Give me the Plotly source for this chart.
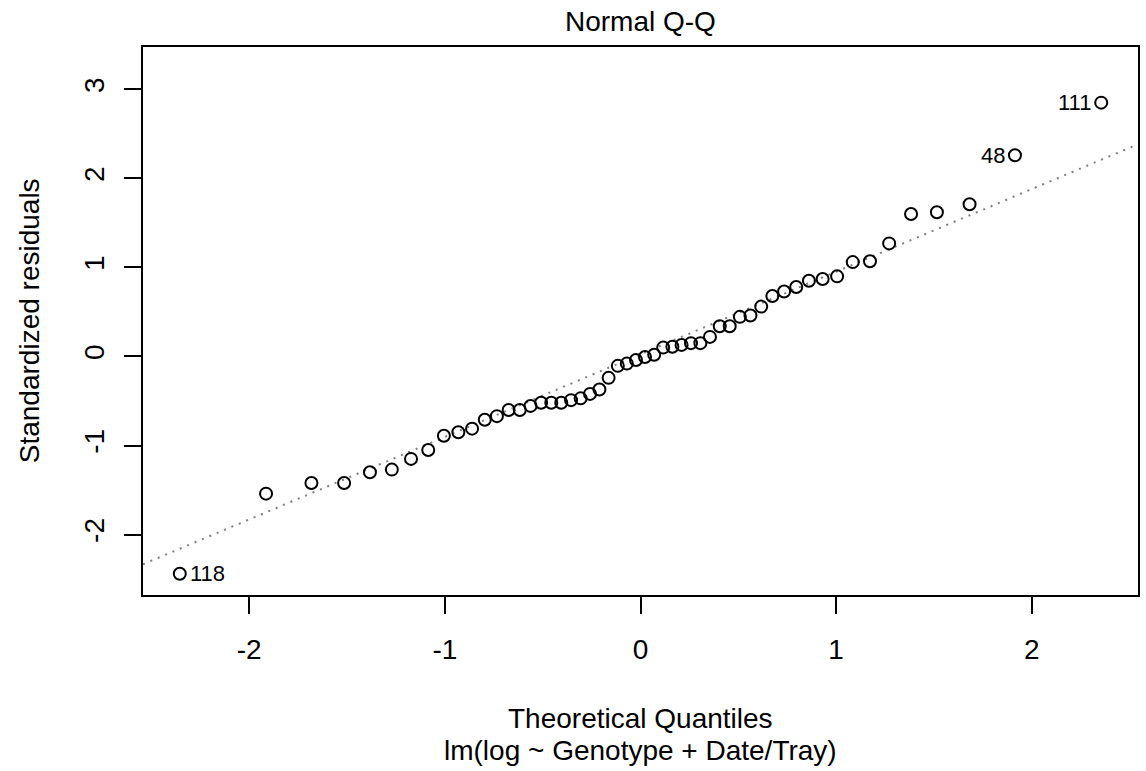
import numpy as np
import plotly.graph_objects as go

# Theoretical normal quantiles and the sorted standardized residuals
theoretical = [
    -2.355, -1.914, -1.682, -1.515, -1.383, -1.271, -1.173, -1.085, -1.005,
    -0.931, -0.861, -0.796, -0.734, -0.674, -0.617, -0.562, -0.508, -0.456,
    -0.405, -0.355, -0.306, -0.258, -0.210, -0.163, -0.116, -0.070, -0.023,
    0.023, 0.070, 0.116, 0.163, 0.210, 0.258, 0.306, 0.355, 0.405,
    0.456, 0.508, 0.562, 0.617, 0.674, 0.734, 0.796, 0.861, 0.931,
    1.005, 1.085, 1.173, 1.271, 1.383, 1.515, 1.682, 1.914, 2.355,
]
std_resid = [
    -2.44, -1.54, -1.42, -1.42, -1.30, -1.27, -1.15, -1.05, -0.89,
    -0.85, -0.81, -0.71, -0.67, -0.60, -0.60, -0.555, -0.52, -0.52,
    -0.52, -0.49, -0.47, -0.42, -0.37, -0.24, -0.105, -0.08, -0.04,
    -0.005, 0.02, 0.10, 0.11, 0.13, 0.15, 0.15, 0.22, 0.34,
    0.34, 0.445, 0.46, 0.56, 0.68, 0.73, 0.78, 0.85, 0.87,
    0.90, 1.06, 1.07, 1.27, 1.60, 1.62, 1.71, 2.26, 2.85,
]
# Flagged observations: (label, index into the sorted arrays)
flagged = [("118", 0), ("48", 52), ("111", 53)]

x_ticks = [-2, -1, 0, 1, 2]
y_ticks = [-2, -1, 0, 1, 2, 3]
x_range = [-2.543, 2.543]
y_range = [-2.678, 3.475]

FONT = "Liberation Sans, Arial, sans-serif"
BIG = 28
SMALL = 22

# Reference line through the first and third quartiles
xq = np.array([-0.674, 0.674])
yq = np.quantile(np.array(std_resid), [0.25, 0.75])
slope = (yq[1] - yq[0]) / (xq[1] - xq[0])
intercept = yq[0] - slope * xq[0]
line_x = np.array(x_range)
line_y = intercept + slope * line_x

fig = go.Figure()
fig.add_trace(go.Scatter(
    x=line_x, y=line_y, mode="lines",
    line=dict(color="#7f7f7f", width=2, dash="2px,6px"),
    hoverinfo="skip", showlegend=False,
))
fig.add_trace(go.Scatter(
    x=theoretical, y=std_resid, mode="markers",
    marker=dict(symbol="circle-open", size=12, color="black",
                line=dict(width=2, color="black")),
    showlegend=False,
))

for label, i in flagged:
    left_side = theoretical[i] < 0
    fig.add_annotation(
        x=theoretical[i], y=std_resid[i], text=label, showarrow=False,
        xanchor="left" if left_side else "right", yanchor="middle",
        xshift=8 if left_side else -8,
        font=dict(family=FONT, size=SMALL, color="black"),
    )

axis_common = dict(
    showgrid=False, zeroline=False, showline=True, mirror=True,
    linecolor="black", linewidth=2, ticks="outside", ticklen=17,
    tickwidth=2, tickcolor="black",
    tickfont=dict(family=FONT, size=BIG, color="black"),
)
fig.update_xaxes(range=x_range, tickvals=x_ticks,
                 ticktext=[str(v) for v in x_ticks],
                 ticklabelstandoff=11, **axis_common)
fig.update_yaxes(range=y_range, tickvals=y_ticks,
                 ticktext=[str(v) for v in y_ticks], tickangle=-90,
                 ticklabelstandoff=9, **axis_common)

PLOT_TOP, PLOT_BOTTOM = 47, 595
plot_h = PLOT_BOTTOM - PLOT_TOP


def paper_y(px):
    return (PLOT_BOTTOM - px) / plot_h


fig.add_annotation(
    xref="paper", yref="paper", x=0.5, y=paper_y(718),
    text="Theoretical Quantiles", showarrow=False,
    xanchor="center", yanchor="middle",
    font=dict(family=FONT, size=BIG, color="black"),
)
fig.add_annotation(
    xref="paper", yref="paper", x=0.5, y=paper_y(750),
    text="lm(log ~ Genotype + Date/Tray)", showarrow=False,
    xanchor="center", yanchor="middle",
    font=dict(family=FONT, size=BIG, color="black"),
)
fig.add_annotation(
    xref="paper", yref="paper", x=(29 - 143) / (1140 - 143), y=0.5,
    text="Standardized residuals", showarrow=False, textangle=-90,
    xanchor="center", yanchor="middle",
    font=dict(family=FONT, size=BIG, color="black"),
)
fig.add_annotation(
    xref="paper", yref="paper", x=0.5, y=paper_y(22),
    text="Normal Q-Q", showarrow=False,
    xanchor="center", yanchor="middle",
    font=dict(family=FONT, size=BIG, color="black"),
)

fig.update_layout(
    width=1146, height=771,
    margin=dict(l=143, r=6, t=PLOT_TOP, b=771 - PLOT_BOTTOM, pad=0),
    plot_bgcolor="white", paper_bgcolor="white",
    font=dict(family=FONT, color="black"),
)

fig.write_html("out.html")
